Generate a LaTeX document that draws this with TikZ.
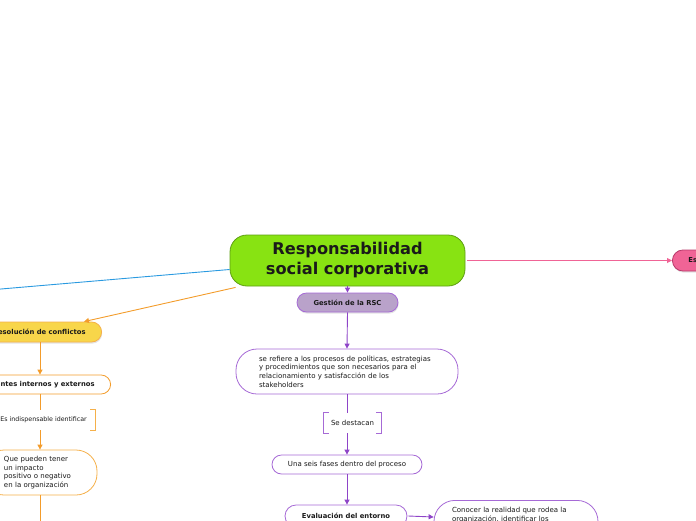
\documentclass[tikz,border=0pt]{standalone}
\usepackage{fontspec}
\setmainfont{DejaVu Sans}
\usetikzlibrary{arrows.meta,shadows}
\definecolor{txt}{HTML}{1A1A1A}
\definecolor{gfill}{HTML}{88E312}
\definecolor{gdraw}{HTML}{5E9E12}
\definecolor{bl}{HTML}{2A9AE0}
\definecolor{org}{HTML}{F39C2B}
\definecolor{orgl}{HTML}{F5B04A}
\definecolor{yel}{HTML}{F8D64A}
\definecolor{pur}{HTML}{8E44C8}
\definecolor{purl}{HTML}{A66AD6}
\definecolor{lav}{HTML}{B9A2CA}
\definecolor{pnk}{HTML}{F06496}
\definecolor{pnkd}{HTML}{B8386A}
\begin{document}
\begin{tikzpicture}[x=1pt,y=-1pt,
  font=\fontsize{7}{8.6}\selectfont, text=txt,
  nd/.style={draw, line width=0.8pt, inner sep=0pt, text=txt},
  pill/.style={nd, rounded corners=9.5pt, minimum height=19pt},
  big/.style={nd, rounded corners=21pt, minimum height=45pt},
  bf/.style={font=\bfseries\fontsize{6.8}{8.6}\selectfont},
  shd/.style={drop shadow={opacity=0.22, shadow xshift=0.6pt, shadow yshift=-1.6pt}},
  ln/.style={line width=0.9pt},
  arr/.style={ln, -{Triangle[length=5pt,width=5pt]}},
  brk/.style={line width=0.8pt},
  lbl/.style={inner sep=0pt, minimum height=20pt, text=txt}
]
\useasboundingbox (0,0) rectangle (696,520);
\clip (0,0) rectangle (696,520);

% central
\node[nd, draw=gdraw, fill=gfill, rounded corners=17pt, minimum width=235pt, minimum height=51pt,
      align=center, font=\bfseries\fontsize{16.2}{20}\selectfont] (c) at (347.5,260.5)
      {Responsabilidad\\social corporativa};

% blue branch
\coordinate (bend) at (-5,289.5);
\draw[ln, bl] ([yshift=-9pt]c.west) -- (bend);

% pink branch
\node[pill, draw=pnkd, fill=pnk, shd, minimum height=21pt, rounded corners=10.5pt,
      text width=100pt, align=left, inner xsep=16pt, anchor=west, bf]
      (p) at (672,260.5) {Es};
\draw[arr, pnk] ([xshift=2pt]c.east) -- (p.west);

% orange branch
\coordinate (col) at (40,0);
\node[pill, draw=orgl, fill=yel, shd, minimum height=20pt, rounded corners=10pt,
      anchor=east, inner xsep=16pt, bf] (r) at (102,332) {Resolución de conflictos};
\draw[arr, org] ([xshift=6pt,yshift=-1pt]c.south west) -- ([xshift=-18pt]r.north east);

\node[pill, draw=org, fill=white, anchor=east, inner xsep=16pt, bf]
      (a) at (111,384.5) {Agentes internos y externos};
\draw[arr, org] (r.south -| col) -- (a.north -| col);

\node[lbl, anchor=east, inner xsep=8pt, font=\fontsize{6.3}{8.6}\selectfont] (ei) at (95,420) {Es indispensable identificar};
\draw[brk, orgl] ([xshift=5pt]ei.north west) -- (ei.north west) -- (ei.south west) -- ([xshift=5pt]ei.south west);
\draw[brk, orgl] ([xshift=-5pt]ei.north east) -- (ei.north east) -- (ei.south east) -- ([xshift=-5pt]ei.south east);
\draw[ln, org] (a.south -| col) -- (ei.north -| col);

\node[big, draw=orgl, fill=white, minimum width=114pt, text width=72pt, align=left]
      (q) at (40,472.5) {\mbox{Que pueden tener}\\\mbox{un impacto}\\\mbox{positivo o negativo}\\\mbox{en la organización}};
\draw[arr, org] (ei.south -| col) -- (q.north);
\coordinate (qend) at (40,530);
\draw[ln, org] (q.south) -- (qend);

% purple branch
\node[pill, draw=purl, fill=lav, shd, minimum width=101pt, bf]
      (g) at (347.5,302.5) {Gestión de la RSC};
\draw[arr, pur] (c.south) -- (g.north);

\node[big, draw=purl, fill=white, minimum width=222pt, text width=176pt, align=left]
      (d) at (347,371.5) {se refiere a los procesos de políticas, estrategias\\y procedimientos que son necesarios para el\\relacionamiento y satisfacción de los\\stakeholders};
\draw[arr, pur] (g.south) -- (d.north);

\node[lbl, minimum width=57pt] (sd) at (352.5,423) {Se destacan};
\draw[brk, purl] ([xshift=5pt]sd.north west) -- (sd.north west) -- (sd.south west) -- ([xshift=5pt]sd.south west);
\draw[brk, purl] ([xshift=-5pt]sd.north east) -- (sd.north east) -- (sd.south east) -- ([xshift=-5pt]sd.south east);
\draw[ln, pur] (d.south) -- (d.south |- sd.north);

\node[pill, draw=purl, fill=white, minimum width=150pt] (f) at (347,464.5) {Una seis fases dentro del proceso};
\draw[arr, pur] (d.south |- sd.south) -- (f.north);

\node[pill, draw=purl, fill=white, minimum width=122pt, minimum height=22pt, rounded corners=11pt, bf]
      (e) at (346,516) {Evaluación del entorno};
\draw[arr, pur] (f.south) -- (f.south |- e.north);

\node[big, draw=purl, fill=white, minimum width=164pt, text width=128pt, align=left, anchor=north,
      inner ysep=5pt] (k) at (516,500)
      {Conocer la realidad que rodea la\\organización, identificar los\\\mbox{}\\\mbox{}};
\draw[arr, pur] ([xshift=1pt]e.east) -- ([yshift=-1pt]e.east -| k.west);
\end{tikzpicture}
\end{document}
